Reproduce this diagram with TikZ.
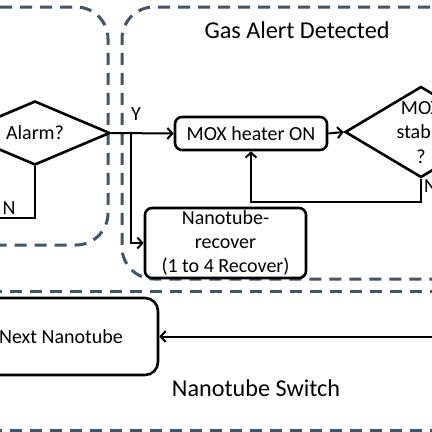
\documentclass[tikz,border=0pt]{standalone}
\usepackage{fontspec}
\setmainfont{Carlito}
\usetikzlibrary{arrows.meta,shapes.geometric}
\definecolor{dashc}{RGB}{68,84,106}
\begin{document}
\begin{tikzpicture}[x=1pt,y=-1pt,
  region/.style={draw=dashc,line width=3pt,dash pattern=on 12pt off 8pt,rounded corners=32pt},
  box/.style={draw,line width=2.6pt,rounded corners=7pt,align=center,inner sep=0pt,font=\fontsize{20}{24}\selectfont},
  dia/.style={draw,diamond,line width=2.6pt,inner sep=0pt},
  conn/.style={line width=2pt},
  arr/.style={conn,-{Straight Barb[length=5pt,width=11pt,line width=2pt]}},
  lbl/.style={inner sep=0pt,align=center,font=\fontsize{20}{24.5}\selectfont},
  title/.style={inner sep=0pt,font=\fontsize{24.2}{29}\selectfont}]
\useasboundingbox (0,0) rectangle (432,432);
\clip (0,0) rectangle (432,432);
\fill[white] (0,0) rectangle (432,432);
% regions
\draw[region] (-60,7) -- (108,7) -- (108,245) -- (-60,245);
\draw[region] (470,7) -- (122,7) -- (122,279) -- (470,279);
\draw[region,rounded corners=0pt] (-10,291) -- (442,291);
\draw[region,rounded corners=0pt] (-10,430) -- (442,430);
% titles
\node[title] (gas) at (297,30) {Gas Alert Detected};
\node[title] (sw) at (256,388) {Nanotube Switch};
% nodes
\node[dia,minimum width=150pt,minimum height=64pt] (alarm) at (35,133) {};
\node[lbl] (alarmt) at (alarm.center) {Alarm?};
\node[box,minimum width=152pt,minimum height=33pt] (mox) at (251,133.5) {MOX heater ON};
\node[dia,minimum width=152pt,minimum height=91pt] (stab) at (421,132) {};
\node[lbl] (stabt) at (421,132.5) {MOX\\stable\\?};
\node[box,minimum width=161pt,minimum height=70pt] (rec) at (225.5,243) {Nanotube-\\recover\\(1 to 4 Recover)};
\node[box,minimum width=194pt,minimum height=77pt,rounded corners=13pt] (next) at (61,336.5) {Next Nanotube};
% labels
\node[lbl] (y) at (136,114) {Y};
\node[lbl] (n1) at (9,208) {N};
\node[lbl,anchor=west] (n2) at (424,186) {N};
% connectors
\coordinate (br) at (131,133);
\coordinate (nend) at (-5,218);
\coordinate (nin) at (445,336.5);
\draw[arr] (alarm.east) -- (mox.west);
\draw[arr] (br) |- (rec.west);
\draw[conn] (alarm.south) |- (nend);
\draw[arr] (mox.east) -- (stab.west);
\draw[arr] (stab.south) -- ++(0,23) -| (mox.south);
\draw[arr] (nin) -- (next.east);
\end{tikzpicture}
\end{document}
